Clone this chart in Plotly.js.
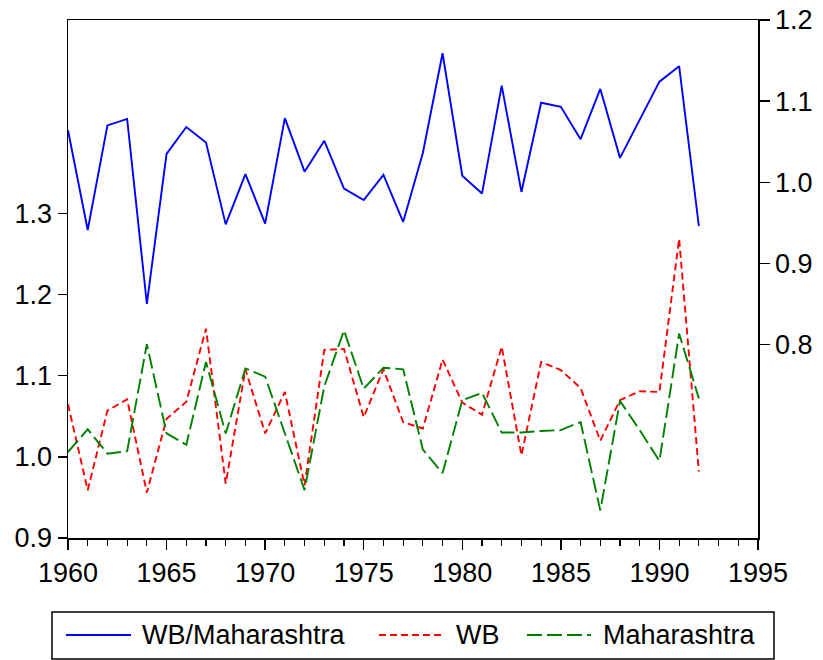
<!DOCTYPE html>
<html>
<head>
<meta charset="utf-8">
<script src="https://cdn.plot.ly/plotly-3.0.1.min.js"></script>
<style>html,body{margin:0;padding:0;background:#fff;}#chart{width:823px;height:660px;}</style>
</head>
<body>
<div id="chart"></div>
<script>
var years = [1960,1961,1962,1963,1964,1965,1966,1967,1968,1969,1970,1971,1972,1973,1974,1975,1976,1977,1978,1979,1980,1981,1982,1983,1984,1985,1986,1987,1988,1989,1990,1991,1992];
var ratio = [1.064,0.941,1.070,1.078,0.850,1.035,1.068,1.049,0.948,1.010,0.949,1.079,1.013,1.051,0.992,0.978,1.009,0.951,1.036,1.159,1.008,0.986,1.119,0.988,1.098,1.093,1.053,1.115,1.030,1.077,1.124,1.143,0.946];
var wb = [1.065,0.959,1.057,1.071,0.956,1.047,1.068,1.158,0.967,1.108,1.029,1.080,0.965,1.132,1.133,1.049,1.108,1.043,1.035,1.120,1.067,1.052,1.136,1.002,1.117,1.107,1.085,1.020,1.070,1.081,1.080,1.269,0.982];
var maha = [1.006,1.034,1.004,1.007,1.139,1.029,1.015,1.117,1.029,1.109,1.099,1.030,0.959,1.087,1.156,1.084,1.110,1.108,1.009,0.980,1.070,1.079,1.030,1.030,1.032,1.033,1.043,0.934,1.069,1.033,0.995,1.152,1.072];
var leftTicks = [0.9,1.0,1.1,1.2,1.3];
var rightTicks = [0.8,0.9,1.0,1.1,1.2];
var seriesNames = ["WB/Maharashtra","WB","Maharashtra"];

var FONT = "Liberation Sans, Arial, sans-serif";
var FS = 27;
var LW = 1.9;
var L = 68, R = 758, T = 20, B = 538;
function px(x){ return (x - L) / (R - L); }
function py(y){ return (B - y) / (B - T); }

var traces = [
  {x: years, y: ratio, yaxis: 'y2', mode: 'lines', name: seriesNames[0], line: {color: '#0000ff', width: LW}},
  {x: years, y: wb, yaxis: 'y', mode: 'lines', name: seriesNames[1], line: {color: '#ff0000', width: LW, dash: '7px,4px'}},
  {x: years, y: maha, yaxis: 'y', mode: 'lines', name: seriesNames[2], line: {color: '#008000', width: LW, dash: '15px,5px'}}
];

var legY = 635;
var shapes = [
  {type: 'rect', xref: 'paper', yref: 'paper', x0: px(52), x1: px(774), y0: py(612), y1: py(659), line: {color: 'black', width: 1.5}, fillcolor: 'rgba(0,0,0,0)'},
  {type: 'line', xref: 'paper', yref: 'paper', x0: px(66), x1: px(131), y0: py(legY), y1: py(legY), line: {color: '#0000ff', width: LW}},
  {type: 'line', xref: 'paper', yref: 'paper', x0: px(379), x1: px(444), y0: py(legY), y1: py(legY), line: {color: '#ff0000', width: LW, dash: '7px,4px'}},
  {type: 'line', xref: 'paper', yref: 'paper', x0: px(527), x1: px(591), y0: py(legY), y1: py(legY), line: {color: '#008000', width: LW, dash: '15px,5px'}}
];
var annotations = [
  {xref: 'paper', yref: 'paper', x: px(140), y: py(legY), xanchor: 'left', yanchor: 'middle', text: seriesNames[0], showarrow: false, font: {family: FONT, size: FS, color: 'black'}},
  {xref: 'paper', yref: 'paper', x: px(454), y: py(legY), xanchor: 'left', yanchor: 'middle', text: seriesNames[1], showarrow: false, font: {family: FONT, size: FS, color: 'black'}},
  {xref: 'paper', yref: 'paper', x: px(601), y: py(legY), xanchor: 'left', yanchor: 'middle', text: seriesNames[2], showarrow: false, font: {family: FONT, size: FS, color: 'black'}}
];

var layout = {
  width: 823, height: 660,
  margin: {l: L, r: 823 - R, t: T, b: 660 - B},
  paper_bgcolor: 'white', plot_bgcolor: 'white',
  showlegend: false,
  font: {family: FONT, size: FS, color: 'black'},
  xaxis: {
    range: [1960, 1995], tickmode: 'linear', tick0: 1960, dtick: 5,
    showgrid: false, zeroline: false, showline: true, linecolor: 'black', linewidth: 1.5, mirror: true,
    ticks: 'outside', ticklen: 10, tickwidth: 1.3, tickcolor: 'black',
    minor: {dtick: 1, ticks: 'outside', ticklen: 6, tickwidth: 1.2, tickcolor: 'black', showgrid: false},
    tickfont: {family: FONT, size: FS, color: 'black'}
  },
  yaxis: {
    range: [0.9, 1.5387], tickmode: 'array', tickvals: leftTicks, tickformat: '.1f',
    showgrid: false, zeroline: false, showline: true, linecolor: 'black', linewidth: 1.5,
    ticks: 'outside', ticklen: 9, tickwidth: 1.3, tickcolor: 'black',
    tickfont: {family: FONT, size: FS, color: 'black'}
  },
  yaxis2: {
    range: [0.5613, 1.2], overlaying: 'y', side: 'right', tickmode: 'array', tickvals: rightTicks, tickformat: '.1f',
    showgrid: false, zeroline: false, showline: true, linecolor: 'black', linewidth: 1.5,
    ticks: 'outside', ticklen: 10, tickwidth: 1.3, tickcolor: 'black',
    tickfont: {family: FONT, size: FS, color: 'black'}
  },
  shapes: shapes,
  annotations: annotations
};

Plotly.newPlot('chart', traces, layout, {displayModeBar: false, staticPlot: true});
</script>
</body>
</html>
